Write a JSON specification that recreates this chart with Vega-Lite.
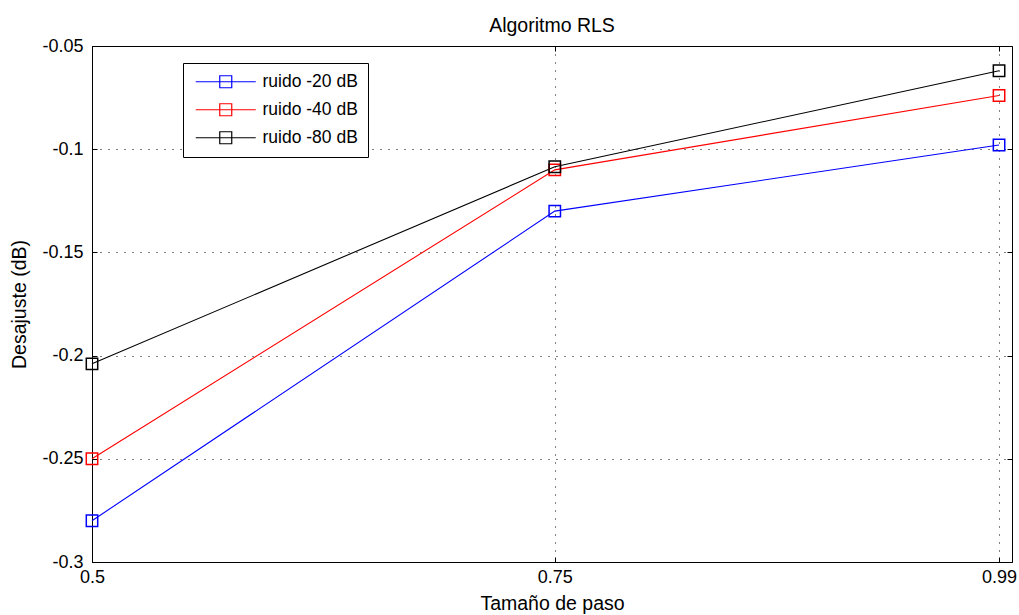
{
  "$schema": "https://vega.github.io/schema/vega-lite/v6.json",
  "width": 920,
  "height": 516,
  "autosize": {"type": "none"},
  "padding": {"left": 92, "top": 46, "right": 7, "bottom": 53},
  "background": "white",
  "title": {"text": "Algoritmo RLS", "fontSize": 19.5, "fontWeight": "normal", "font": "Liberation Sans", "color": "black", "offset": 1},
  "config": {
    "font": "Liberation Sans",
    "view": {"stroke": "black", "strokeWidth": 1},
    "axis": {
      "labelFont": "Liberation Sans", "labelFontSize": 18, "labelColor": "black",
      "titleFont": "Liberation Sans", "titleFontSize": 19.5, "titleFontWeight": "normal", "titleColor": "black",
      "domainColor": "black", "tickColor": "black",
      "gridColor": "black", "gridOpacity": 1, "gridDash": [1, 7], "gridWidth": 1
    }
  },
  "resolve": {"axis": {"x": "independent", "y": "independent"}},
  "data": {"values": [
    {"paso": 0.5, "desajuste": -0.28, "serie": "ruido -20 dB"},
    {"paso": 0.75, "desajuste": -0.13, "serie": "ruido -20 dB"},
    {"paso": 0.99, "desajuste": -0.098, "serie": "ruido -20 dB"},
    {"paso": 0.5, "desajuste": -0.25, "serie": "ruido -40 dB"},
    {"paso": 0.75, "desajuste": -0.11, "serie": "ruido -40 dB"},
    {"paso": 0.99, "desajuste": -0.074, "serie": "ruido -40 dB"},
    {"paso": 0.5, "desajuste": -0.204, "serie": "ruido -80 dB"},
    {"paso": 0.75, "desajuste": -0.1085, "serie": "ruido -80 dB"},
    {"paso": 0.99, "desajuste": -0.062, "serie": "ruido -80 dB"}
  ]},
  "layer": [
    {
      "encoding": {
        "x": {"field": "paso", "type": "quantitative", "title": "Tamaño de paso",
          "scale": {"domain": [0.5, 0.997], "nice": false, "zero": false},
          "axis": {"values": [0.5, 0.75, 0.99], "format": ".2~f", "tickSize": -5, "labelPadding": 11, "labelFlush": false, "titlePadding": 8, "grid": true}},
        "y": {"field": "desajuste", "type": "quantitative", "title": "Desajuste (dB)",
          "scale": {"domain": [-0.3, -0.05], "nice": false, "zero": false},
          "axis": {"values": [-0.3, -0.25, -0.2, -0.15, -0.1, -0.05], "format": ".2~f", "labelExpr": "replace(datum.label, '−', '-')", "tickSize": -5, "labelPadding": 14, "labelFlush": false, "titlePadding": 12, "grid": true}},
        "color": {"field": "serie", "type": "nominal",
          "scale": {"domain": ["ruido -20 dB", "ruido -40 dB", "ruido -80 dB"], "range": ["#0000ff", "#ff0000", "#000000"]},
          "legend": {"title": null, "orient": "none", "legendX": 91, "legendY": 17,
            "symbolType": "M-1,0H9M3,-1H5V1H3Z", "symbolSize": 144, "symbolStrokeWidth": 1.2,
            "symbolFillColor": "transparent", "labelFontSize": 17.5, "labelFont": "Liberation Sans", "labelColor": "black",
            "strokeColor": "black", "fillColor": "white", "padding": 10, "rowPadding": 9, "labelOffset": 52}}
      },
      "layer": [
        {"mark": {"type": "line", "strokeWidth": 1.1}},
        {"mark": {"type": "point", "shape": "square", "filled": false, "size": 130, "strokeWidth": 1.5, "opacity": 1}}
      ]
    },
    {
      "mark": {"type": "point", "opacity": 0},
      "encoding": {
        "x": {"field": "paso", "type": "quantitative",
          "scale": {"domain": [0.5, 0.997], "nice": false, "zero": false},
          "axis": {"orient": "top", "values": [0.5, 0.75, 0.99], "labels": false, "title": null, "tickSize": -5, "grid": false, "domain": false}},
        "y": {"field": "desajuste", "type": "quantitative",
          "scale": {"domain": [-0.3, -0.05], "nice": false, "zero": false},
          "axis": {"orient": "right", "values": [-0.3, -0.25, -0.2, -0.15, -0.1, -0.05], "labels": false, "title": null, "tickSize": -5, "grid": false, "domain": false}}
      }
    }
  ]
}
